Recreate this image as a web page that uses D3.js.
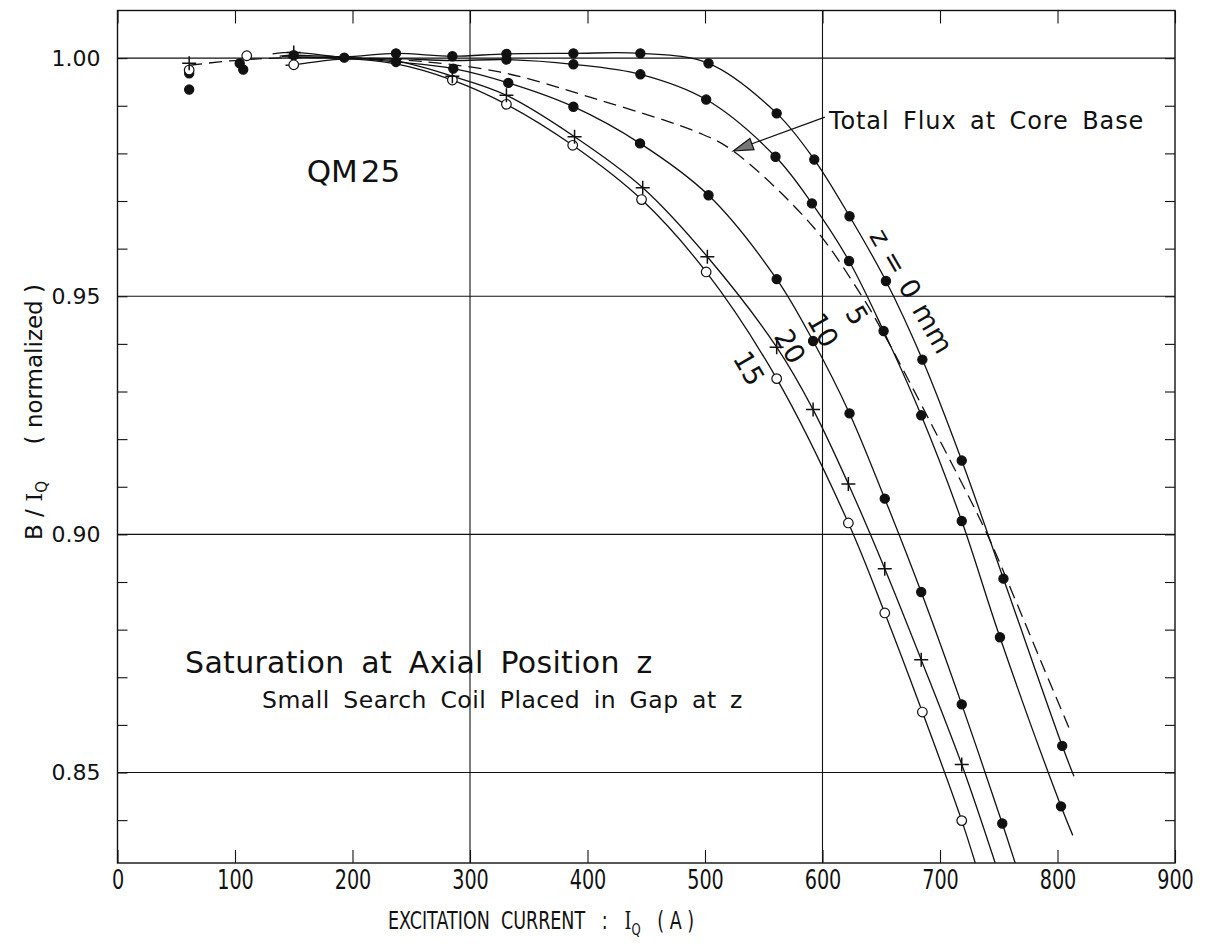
<!DOCTYPE html>
<html>
<head>
<meta charset="utf-8">
<script src="https://cdn.jsdelivr.net/npm/d3@7"></script>
<style>
  body { margin: 0; background: #fff; }
  text { font-family: "DejaVu Sans", sans-serif; fill: #111; }
</style>
</head>
<body>
<svg id="chart"></svg>
<script>
// ---- data (I in A, B/I normalized) ----
// z = 0 mm (filled dots)
const z0_I = [61, 150, 237, 285, 331, 388, 445, 503, 561, 593, 623, 654, 685, 718.5, 754, 804];
const z0_B = [0.9934, 1.0006, 1.0010, 1.0004, 1.0009, 1.0010, 1.0010, 0.9989, 0.9884, 0.9787, 0.9668, 0.9532, 0.9367, 0.9155, 0.8907, 0.8556];
const z0_lineI = [138, 193, 814];
const z0_lineB = [1.0004, 1.0003, 0.8492];

// z = 5 mm
const z5_I = [107, 331, 388, 445, 501, 560, 591, 622.6, 652, 684, 718.5, 751, 803];
const z5_B = [0.9976, 0.9997, 0.9987, 0.9966, 0.9913, 0.9793, 0.9695, 0.9574, 0.9427, 0.9250, 0.9028, 0.8784, 0.8429];
const z5_lineI = [140, 193, 237, 285, 813];
const z5_lineB = [1.0003, 1.0000, 0.9999, 0.9995, 0.8368];

// z = 10 mm
const z10_I = [61, 104, 193, 237, 285.8, 332.6, 388, 444.7, 503, 561, 592, 623, 653, 684, 718.5, 753];
const z10_B = [0.9968, 0.9989, 1.0001, 0.9992, 0.9978, 0.9948, 0.9898, 0.9821, 0.9712, 0.9536, 0.9406, 0.9254, 0.9075, 0.8879, 0.8643, 0.8393];
const z10_lineI = [145, 764];
const z10_lineB = [1.0002, 0.8310];

// z = 15 mm (open circles)
const z15_I = [61, 110, 150, 285, 331, 387.4, 446, 501, 561, 622, 653, 685, 718.5];
const z15_B = [0.9975, 1.0005, 0.9986, 0.9954, 0.9903, 0.9817, 0.9703, 0.9551, 0.9327, 0.9024, 0.8835, 0.8627, 0.8399];
const z15_lineI = [143, 193, 237, 730];
const z15_lineB = [0.9985, 0.9998, 0.9988, 0.8310];

// z = 20 mm (crosses)
const z20_I = [61, 150, 285, 331, 389, 447, 502, 561, 592, 622, 653, 684, 718.5];
const z20_B = [0.9989, 1.0012, 0.9962, 0.9922, 0.9835, 0.9728, 0.9583, 0.9393, 0.9262, 0.9106, 0.8928, 0.8737, 0.8517];
const z20_lineI = [132, 193, 237, 747];
const z20_lineB = [1.0009, 1.0001, 0.9994, 0.8310];

// total flux at core base (dashed)
const flux_I = [61, 104, 150, 200, 240, 325, 410, 496, 524, 592, 632, 652, 694, 740, 762, 788, 812];
const flux_B = [0.9985, 0.9996, 1.0001, 1.0000, 0.9997, 0.9971, 0.9912, 0.9842, 0.9805, 0.9646, 0.9506, 0.9422, 0.9225, 0.9001, 0.8875, 0.8721, 0.8581];

const xTicks = [0, 100, 200, 300, 400, 500, 600, 700, 800, 900];
const yTicks = [0.85, 0.90, 0.95, 1.00];
const yMinor = d3.range(84, 101).map(d => d / 100);
const xGrid = [300, 600];

const series = [
  { name: "0", I: z0_I, B: z0_B, lI: z0_lineI, lB: z0_lineB, mark: "dot" },
  { name: "5", I: z5_I, B: z5_B, lI: z5_lineI, lB: z5_lineB, mark: "dot" },
  { name: "10", I: z10_I, B: z10_B, lI: z10_lineI, lB: z10_lineB, mark: "dot" },
  { name: "15", I: z15_I, B: z15_B, lI: z15_lineI, lB: z15_lineB, mark: "open" },
  { name: "20", I: z20_I, B: z20_B, lI: z20_lineI, lB: z20_lineB, mark: "plus" }
];

// ---- layout ----
const W = 1208, H = 951;
const margin = { top: 10.5, right: 33, bottom: 88, left: 117.5 };
const width = W - margin.left - margin.right;
const height = H - margin.top - margin.bottom;

const svg = d3.select("#chart").attr("width", W).attr("height", H);
const g = svg.append("g").attr("transform", `translate(${margin.left},${margin.top})`);

const x = d3.scaleLinear().domain([0, 900]).range([0, width]);
const y = d3.scaleLinear().domain([0.831, 1.010]).range([height, 0]);

svg.append("defs").append("clipPath").attr("id", "clip")
  .append("rect").attr("width", width).attr("height", height);

// grid
g.append("g").selectAll("line").data(yTicks).join("line")
  .attr("x1", 0).attr("x2", width)
  .attr("y1", d => y(d)).attr("y2", d => y(d))
  .attr("stroke", "#111").attr("stroke-width", 1.1);
g.append("g").selectAll("line").data(xGrid).join("line")
  .attr("x1", d => x(d)).attr("x2", d => x(d))
  .attr("y1", 0).attr("y2", height)
  .attr("stroke", "#111").attr("stroke-width", 1.1);

// inward ticks on all four sides
const clean = s => { s.select(".domain").remove(); s.selectAll("line").attr("stroke", "#111").attr("stroke-width", 1.1); };
g.append("g").call(d3.axisRight(y).tickValues(yMinor).tickSize(10).tickFormat("")).call(clean);
g.append("g").attr("transform", `translate(${width},0)`)
  .call(d3.axisLeft(y).tickValues(yMinor).tickSize(10).tickFormat("")).call(clean);
g.append("g").call(d3.axisBottom(x).tickValues(xTicks).tickSize(13).tickFormat("")).call(clean);
g.append("g").attr("transform", `translate(0,${height})`)
  .call(d3.axisTop(x).tickValues(xTicks).tickSize(13).tickFormat("")).call(clean);

// tick labels
const yAxis = g.append("g").call(d3.axisLeft(y).tickValues(yTicks).tickSize(0).tickPadding(17).tickFormat(d3.format(".2f")));
yAxis.select(".domain").remove();
yAxis.selectAll("text").style("font-size", "22px").attr("fill", "#111");

const xAxis = g.append("g").attr("transform", `translate(0,${height})`)
  .call(d3.axisBottom(x).tickValues(xTicks).tickSize(0).tickPadding(8).tickFormat(d3.format("d")));
xAxis.select(".domain").remove();
xAxis.selectAll("text").style("font-size", "26px").attr("fill", "#111")
  .attr("transform", "scale(0.74,1)");

// frame
g.append("rect").attr("width", width).attr("height", height)
  .attr("fill", "none").attr("stroke", "#111").attr("stroke-width", 1.4);

// curves
const line = d3.line().x(d => x(d[0])).y(d => y(d[1])).curve(d3.curveCatmullRom.alpha(0.5));
const plot = g.append("g").attr("clip-path", "url(#clip)");

series.forEach(s => {
  const start = d3.min(s.lI);
  const pts = s.I.map((v, i) => [v, s.B[i]]).filter(p => p[0] >= start)
    .concat(s.lI.map((v, i) => [v, s.lB[i]]))
    .sort((a, b) => a[0] - b[0]);
  plot.append("path").datum(pts).attr("d", line)
    .attr("fill", "none").attr("stroke", "#111").attr("stroke-width", 1.3);
});

plot.append("path").datum(flux_I.map((v, i) => [v, flux_B[i]])).attr("d", line)
  .attr("fill", "none").attr("stroke", "#111").attr("stroke-width", 1.3)
  .attr("stroke-dasharray", "13,7");

// markers
series.forEach(s => {
  const pts = s.I.map((v, i) => [v, s.B[i]]);
  const mg = plot.append("g");
  if (s.mark === "plus") {
    mg.selectAll("path").data(pts).join("path")
      .attr("d", d => `M${x(d[0]) - 7},${y(d[1])}h14M${x(d[0])},${y(d[1]) - 7}v14`)
      .attr("stroke", "#111").attr("stroke-width", 1.5);
  } else {
    mg.selectAll("circle").data(pts).join("circle")
      .attr("cx", d => x(d[0])).attr("cy", d => y(d[1]))
      .attr("r", s.mark === "open" ? 4.8 : 4.6)
      .attr("fill", s.mark === "open" ? "#fff" : "#111")
      .attr("stroke", "#111").attr("stroke-width", 1.2);
  }
});

// annotation: Total Flux at Core Base
const tip = [524, 0.9805], tail = [602, 0.9876];
g.append("line").attr("x1", x(tail[0])).attr("y1", y(tail[1]))
  .attr("x2", x(tip[0]) + 10).attr("y2", y(tip[1]) - 4)
  .attr("stroke", "#111").attr("stroke-width", 1.2);
{
  const tx = x(tip[0]), ty = y(tip[1]);
  const ang = Math.atan2(y(tail[1]) - ty, x(tail[0]) - tx);
  const L = 20, Wd = 6;
  const bx = tx + L * Math.cos(ang), by = ty + L * Math.sin(ang);
  const px = -Math.sin(ang) * Wd, py = Math.cos(ang) * Wd;
  g.append("path").attr("d", `M${tx},${ty}L${bx + px},${by + py}L${bx - px},${by - py}Z`)
    .attr("fill", "#777").attr("stroke", "#111").attr("stroke-width", 1.2);
}
g.append("text").attr("x", x(605.5)).attr("y", y(0.9851))
  .style("font-size", "24px").attr("letter-spacing", "0.9px").attr("word-spacing", "5px")
  .text("Total Flux at Core Base");

// QM25
g.append("text").attr("x", x(161)).attr("y", y(0.974)).style("font-size", "31px")
  .text("QM").append("tspan").attr("dx", 3).text("25");

// title block
g.append("text").attr("x", x(57.5)).attr("y", y(0.8709)).style("font-size", "30px")
  .attr("letter-spacing", "0.3px").attr("word-spacing", "7px").text("Saturation at Axial Position z");
g.append("text").attr("x", x(123)).attr("y", y(0.8636)).style("font-size", "23.5px")
  .attr("letter-spacing", "0.5px").attr("word-spacing", "5.5px").text("Small Search Coil Placed in Gap at z");

// curve labels
const curveLabels = [
  { t: "z = 0 mm", I: 675.7, B: 0.9511 },
  { t: "5", I: 629.4, B: 0.9460 },
  { t: "10", I: 600.4, B: 0.9429 },
  { t: "20", I: 572.3, B: 0.9395 },
  { t: "15", I: 537.4, B: 0.9349 }
];
g.append("g").selectAll("text").data(curveLabels).join("text")
  .attr("transform", d => `translate(${x(d.I)},${y(d.B)}) rotate(60)`)
  .attr("text-anchor", "middle").attr("dominant-baseline", "central")
  .style("font-size", "27px").attr("word-spacing", "2px").text(d => d.t);

// axis titles
const yt = svg.append("text").attr("transform", "translate(42,412) rotate(-90)")
  .attr("text-anchor", "middle").style("font-size", "23px");
yt.append("tspan").text("B / ");
yt.append("tspan").style("font-family", "'DejaVu Serif', serif").text("I");
yt.append("tspan").attr("dy", 5).style("font-size", "15px").text("Q");
yt.append("tspan").attr("dy", -5).attr("xml:space", "preserve").text("     ( normalized )");

const xt = svg.append("text").attr("transform", "translate(541,929) scale(0.73,1)")
  .attr("text-anchor", "middle").style("font-size", "24px").attr("xml:space", "preserve");
xt.append("tspan").text("EXCITATION  CURRENT   :   ");
xt.append("tspan").style("font-family", "'DejaVu Serif', serif").text("I");
xt.append("tspan").attr("dy", 6).style("font-size", "16px").text("Q");
xt.append("tspan").attr("dy", -6).text("   ( A )");
</script>
</body>
</html>
